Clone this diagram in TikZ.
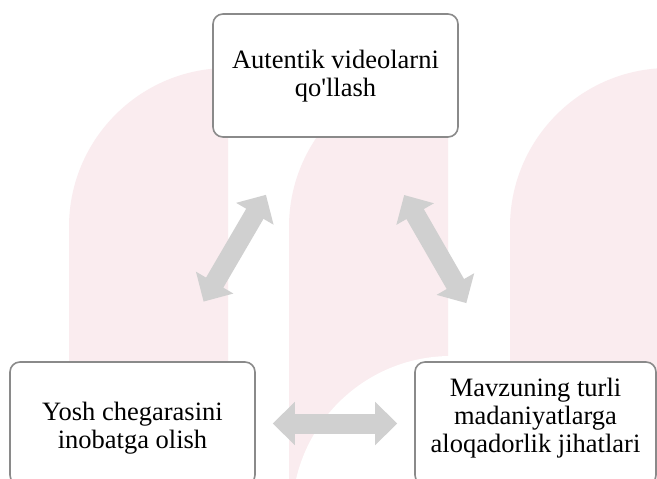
\documentclass[tikz,border=0pt]{standalone}
\usepackage{fontspec}
\setmainfont{Liberation Serif}
\usetikzlibrary{arrows.meta}
\usetikzlibrary{positioning}
\definecolor{wmpink}{RGB}{250,236,239}
\definecolor{linkgray}{RGB}{208,208,208}
\definecolor{framegray}{RGB}{138,138,138}
\tikzset{box/.style = {draw = framegray, line width = 1.6pt, rounded corners = 10pt,
                       fill = white, minimum width = 245pt, minimum height = 123pt,
                       inner sep = 0}}
\tikzset{txt/.style = {inner sep = 0, align = center,
                       font = \fontsize{26.5}{28}\selectfont}}
\tikzset{dbl/.style = {linkgray, line width = 20pt,
                       {Triangle[length = 22pt, width = 42pt]}-{Triangle[length = 22pt, width = 42pt]}}}

\begin{document}
\begin{tikzpicture}[x=1pt, y=-1pt]
      \clip (0, 0) rectangle (657, 479);
      \fill [white] (0, 0) rectangle (657, 479);
      % watermark
      \fill [wmpink] (69, 490) -- (69, 227) arc [start angle = 180, end angle = 270, radius = 159] -- (228, 490) -- cycle;
      \fill [wmpink] (289, 490) -- (289, 227) arc [start angle = 180, end angle = 270, radius = 159] -- (448, 490) -- cycle;
      \fill [wmpink] (510, 490) -- (510, 227) arc [start angle = 180, end angle = 270, radius = 159] -- (669, 490) -- cycle;
      \fill [white] (292, 490) -- (292, 515) arc [start angle = 180, end angle = 270, radius = 159] -- (451, 490) -- cycle;

      \node (video) at (335.5, 75.5) [box] {};
      \node (yosh) at (132.5, 423.5) [box] {};
      \node (mavzu) at (535.5, 423.5) [box, minimum width = 241pt] {};
      \node (videotext) at (335.5, 76) [txt] {Autentik videolarni\\qo\textquotesingle llash};
      \node (yoshtext) at (132.5, 428.5) [txt] {Yosh chegarasini\\inobatga olish};
      \node (mavzutext) at (535.5, 418.5) [txt] {Mavzuning turli\\madaniyatlarga\\aloqadorlik jihatlari};

      \draw [dbl, shorten <= 69pt, shorten >= 66pt] (yosh) -- (video);
      \draw [dbl, shorten <= 66pt, shorten >= 67pt] (video) -- (mavzu);
      \draw [dbl, shorten <= 17pt, shorten >= 17pt] (yosh) -- (mavzu);
    \end{tikzpicture}
\end{document}
